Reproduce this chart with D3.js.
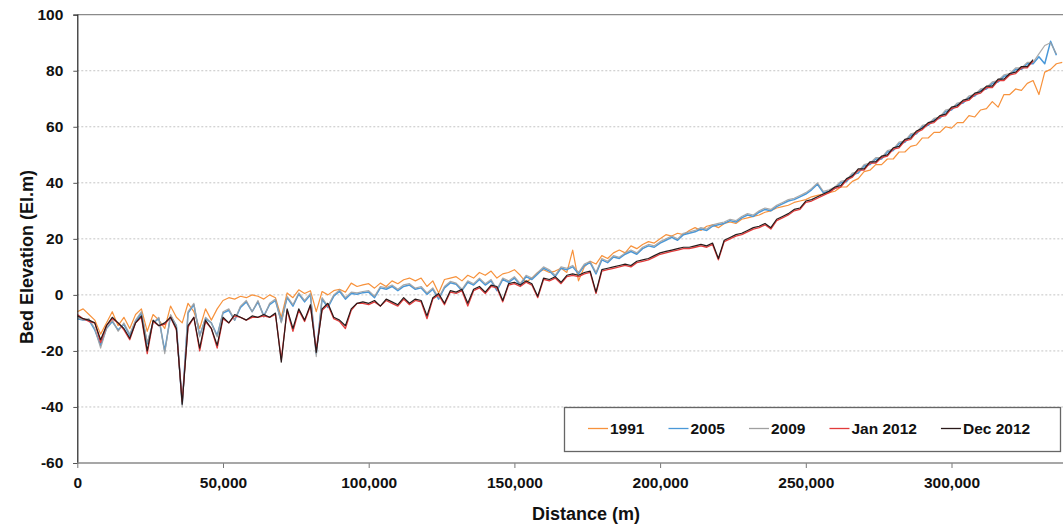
<!DOCTYPE html>
<html>
<head>
<meta charset="utf-8">
<script src="https://cdn.jsdelivr.net/npm/d3@7"></script>
<style>
  body { margin: 0; background: #fff; }
  svg { display: block; font-family: "Liberation Sans", Arial, sans-serif; }
</style>
</head>
<body>
<svg id="chart" width="1063" height="526"></svg>
<script>
// sample spacing of the survey profile (m)
const distances = d3.range(0, 338001, 2000);

const yTicks = [-60, -40, -20, 0, 20, 40, 60, 80, 100];
const xTicks = [0, 50000, 100000, 150000, 200000, 250000, 300000];

const seriesNames = ["1991", "2005", "2009", "Jan 2012", "Dec 2012"];

const v1991 = [
  -6,-5,-7,-9,-14,-10,-6,-11,-8,-12,
  -7,-5,-13,-7,-9,-12,-4,-8,-10,-3,
  -6,-12,-5,-9,-5,-2,-1,-1.5,-0.5,-1,
  0,-0.5,-1.5,0,-1,-8,0.7,-1,1.8,0.5,
  1.5,-6,1.2,0,1.5,2,1,4.2,3,3.6,
  4,2.4,4.2,3,5,4,5.4,6,5,6,
  3,5,0.7,5.5,6,6.5,5,7,6,8,
  7,8.5,6,7.5,8,9,7,4.5,6,8,
  9,8,8.5,9.5,8,16,5,10,12,11,
  14,13,15,16,15,17.5,16.5,18,19,18.5,
  20,21.5,21,22,21.5,23,24,23,24.5,25,
  24,25.5,26,25.5,27,27.5,28,28.5,29.5,30,
  31,31.5,32,33,33.5,34,35,35.5,36,36.5,
  37,38.5,38.5,40.5,41.5,44,44.5,46.5,46.5,48.5,
  48.5,51,51,53,53.5,56,56,58,58,60,
  59.5,61.5,61.5,64,63.5,66,66.5,69,67,71.5,
  71.5,73.5,73,75.5,76.5,71.5,79.5,80.5,82.5,83
];

const v2005 = [
  -8.5,-9,-9,-12.5,-18,-12,-9.5,-12.5,-10.5,-14.5,
  -9.5,-6.5,-17.5,-10,-8.5,-20,-7.5,-11,-39,-6.5,
  -3.5,-14.5,-8.5,-10,-14.5,-6.5,-5.5,-9,-4.5,-2.5,
  -6,-2.5,-7.5,-3.5,-2,-9.5,-1,-4,0.3,-2.5,
  0,-21,-1.5,-4.5,-0.5,1.3,-1.5,0.5,0.2,0.8,
  1,-1,2.5,2,3,1.5,3,3.5,2,2.5,
  0.2,2,-1.5,2.5,4.3,3.8,1.5,4.5,3.5,5.5,
  3.5,5,1.5,5.5,4.5,6,3.5,6.5,5.5,7.5,
  9.5,8.5,6.5,9.5,9,10,7.5,10.5,11.5,7.5,
  12.5,11.5,13.5,13,14.5,15.5,14.5,16.5,17.5,17,
  18.5,19.5,20.5,19.5,21.5,22,22.5,23.5,23,24.5,
  25,25.5,26.5,26,27.5,28.5,28,29.5,30.5,30,
  31.5,32.5,33.5,34,35,36,37.5,39.5,36.5,37,
  38,40,40.5,43,43.5,46,46.5,48.5,48.5,51,
  51.5,54,54.5,57,57.5,60,60.5,62.5,63,65.5,
  66,68,68.5,70.5,71,73,73.5,75.5,76,78,
  78.5,80.5,80.5,82.5,82.5,85,82.5,90.5,85.5,null
];

const v2009 = [
  -8,-9,-8.5,-12,-19,-12,-9,-13,-10,-14,
  -9,-6,-17,-10,-8,-21,-7,-11,-40,-6,
  -3,-15,-8,-10,-15,-6,-5,-9,-4,-2,
  -6,-2,-8,-3,-1.5,-10,-0.5,-3.5,0.7,-2,
  0.5,-22,-1,-4,0,1.8,-1,1,0.7,1.2,
  1.5,-0.5,3,2.5,3.5,2,3.6,4,2.4,3,
  0.7,2.5,-1,3,4.8,4.2,2,5,4,6,
  4,5.5,2,6,5,6.5,4,7,6,8,
  10,9,7,10,9.5,10.5,8,11,12,8,
  13,12,14,13.4,15,16,15,17,18,17.5,
  19,20,21,20,22,22.5,23,24,23.5,25,
  25.5,26,27,26.5,28,29,28.5,30,31,30.5,
  32,33,34,34.5,35.5,36.5,38,40,37,37.5,
  38.5,40.5,41,43.5,44,46.5,47,49,49,51.5,
  52,54.5,55,57.5,58,60.5,61,63,63.5,66,
  66.5,68.5,69,71,71.5,73.5,74,76,76.5,78.5,
  79,81,81,83,83,86,89,90,86,null
];

const vJan2012 = [
  -7,-8.5,-9.5,-10,-17,-11,-8.5,-10,-12.5,-16,
  -10,-8,-21,-9.5,-11,-10.5,-8,-12.5,-38,-11.5,
  -8,-20,-9.5,-12,-19,-8.5,-10,-7.5,-8,-9,
  -8,-8,-7.5,-8,-7,-23,-5.5,-13,-5.5,-9.5,
  -4,-19.5,-5.5,-3.5,-8.5,-9.5,-12,-5.5,-3,-3,
  -3.5,-2.5,-4,-2,-3,-4,-1.5,-3.5,-2,-2.5,
  -8.5,-1.5,0,-3.5,1,0.5,1.5,-4,1.5,2.5,
  0.5,3,2.5,-2.5,3.5,4,3,4.5,3.5,-1,
  5.5,5,6,4,6.5,7,6.5,7.5,8,0.5,
  8.5,9,9.5,10,10.5,10,11.5,12,12.5,13.5,
  14.5,15,15.5,16,16.5,16.5,17,17.5,17,18,
  12.5,19,20,21,21.5,22.5,23.5,24,25,23.5,
  26.5,27.5,28.5,30,30.5,33,33.5,34.5,35.5,36.5,
  38,38.5,41,42,44.5,44.5,47,47,49,49.5,
  52,52.5,55,55.5,58,59,61,61.5,63.5,64,
  66.5,67,69,69.5,71.5,72,74,74,76.5,76.5,
  78.5,79,81,81,83.5,null,null,null,null,null
];

const vDec2012 = [
  -7.5,-8.5,-9,-10,-16,-11,-8,-10,-12,-15.5,
  -10,-7.5,-20,-9,-11,-10,-8,-12,-39,-11,
  -8,-19,-9,-12,-18,-8,-10,-7,-8,-9,
  -7.5,-8,-7,-8,-6.5,-24,-5,-12,-5,-9,
  -3.5,-20.5,-5,-3,-8,-9,-11,-5,-3,-2.5,
  -3,-2,-4,-1.5,-2.5,-3.5,-1,-3,-1.5,-2,
  -7.5,-1,0.5,-3,1.5,1,2,-3,2,3,
  1,3.5,3,-2,4,4.5,3.5,5,4,-0.5,
  6,5.5,6.5,4.5,7,7.5,7,8,8.5,1,
  9,9.5,10,10.5,11,10.5,12,12.5,13,14,
  15,15.5,16,16.5,17,17,17.5,18,17.5,18.5,
  13,19.5,20.5,21.5,22,23,24,24.5,25.5,24,
  27,28,29,30.5,31,33.5,34,35,36,37,
  38.5,39,41.5,42.5,45,45,47.5,47.5,49.5,50,
  52.5,53,55.5,56,58.5,59.5,61.5,62,64,64.5,
  67,67.5,69.5,70,72,72.5,74.5,74.5,77,77,
  79,79.5,81.5,81.5,84,null,null,null,null,null
];

const seriesValues = [v1991, v2005, v2009, vJan2012, vDec2012];
const seriesColors = ["#F7923C", "#4A98D8", "#A0A0A0", "#E23B3B", "#2A1A1A"];
const seriesWidths = [1.2, 1.5, 1.2, 1.3, 1.2];

const svg = d3.select("#chart");

const x = d3.scaleLinear().domain([0, 350000]).range([77.3, 77.3 + 350000 * 0.002914]);
const y = d3.scaleLinear().domain([-60, 100]).range([463, 14.7]);
const plotRight = 1063;

// gridlines
svg.append("g").selectAll("line")
  .data(yTicks.filter(t => t > -60))
  .join("line")
  .attr("x1", x(0)).attr("x2", plotRight)
  .attr("y1", d => y(d)).attr("y2", d => y(d))
  .attr("stroke", d => d === 100 ? "#8a8a8a" : "#c4c4c4")
  .attr("stroke-width", d => d === 100 ? 1.3 : 1)
  .attr("stroke-dasharray", d => d === 100 ? null : "2,2");

// series lines
const line = d3.line()
  .defined(d => d.v != null)
  .x(d => x(d.d))
  .y(d => y(d.v));

const g = svg.append("g");
seriesValues.forEach((vals, i) => {
  const pts = distances.map((d, k) => ({ d: d, v: vals[k] }));
  g.append("path")
    .datum(pts)
    .attr("fill", "none")
    .attr("stroke", seriesColors[i])
    .attr("stroke-width", seriesWidths[i])
    .attr("stroke-opacity", i === 2 ? 0.9 : 1)
    .attr("stroke-linejoin", "round")
    .attr("d", line);
});

// axes
const yAxis = svg.append("g")
  .attr("transform", `translate(${x(0)},0)`)
  .call(d3.axisLeft(y).tickValues(yTicks).tickSize(4).tickPadding(10)
    .tickFormat(d => String(d)));
yAxis.select(".domain").attr("stroke", "#222").attr("stroke-width", 1.2);
yAxis.selectAll(".tick line").attr("stroke", "#555");

const xAxis = svg.append("g")
  .attr("transform", `translate(0,${y(-60)})`)
  .call(d3.axisBottom(x).tickValues(xTicks).tickSize(5).tickPadding(9)
    .tickFormat(d3.format(",")));
xAxis.select(".domain").remove();
xAxis.append("line")
  .attr("x1", x(0)).attr("x2", plotRight)
  .attr("stroke", "#8a8a8a").attr("stroke-width", 1.3);
xAxis.selectAll(".tick line").attr("stroke", "#777");

[yAxis, xAxis].forEach(a => a
  .attr("font-family", '"Liberation Sans", Arial, sans-serif')
  .attr("font-size", 15.5)
  .attr("font-weight", "bold")
  .selectAll(".tick text").attr("fill", "#111"));

// axis titles
svg.append("text")
  .attr("x", 586).attr("y", 520)
  .attr("text-anchor", "middle")
  .attr("font-weight", "bold").attr("font-size", 18).attr("fill", "#111")
  .text("Distance (m)");

svg.append("text")
  .attr("transform", "translate(32.5,257) rotate(-90)")
  .attr("text-anchor", "middle")
  .attr("font-weight", "bold").attr("font-size", 18).attr("fill", "#111")
  .text("Bed Elevation (El.m)");

// legend
const legend = svg.append("g");
legend.append("rect")
  .attr("x", 564.5).attr("y", 407.5).attr("width", 496).attr("height", 44)
  .attr("fill", "#fff").attr("stroke", "#666").attr("stroke-width", 1.3);

let lx = 588;
seriesNames.forEach((name, i) => {
  legend.append("line")
    .attr("x1", lx).attr("x2", lx + 20)
    .attr("y1", 428.5).attr("y2", 428.5)
    .attr("stroke", seriesColors[i]).attr("stroke-width", 1.3);
  const t = legend.append("text")
    .attr("x", lx + 22).attr("y", 434)
    .attr("font-weight", "bold").attr("font-size", 15.5).attr("fill", "#111")
    .text(name);
  lx += 22 + t.node().getComputedTextLength() + 24;
});
</script>
</body>
</html>
